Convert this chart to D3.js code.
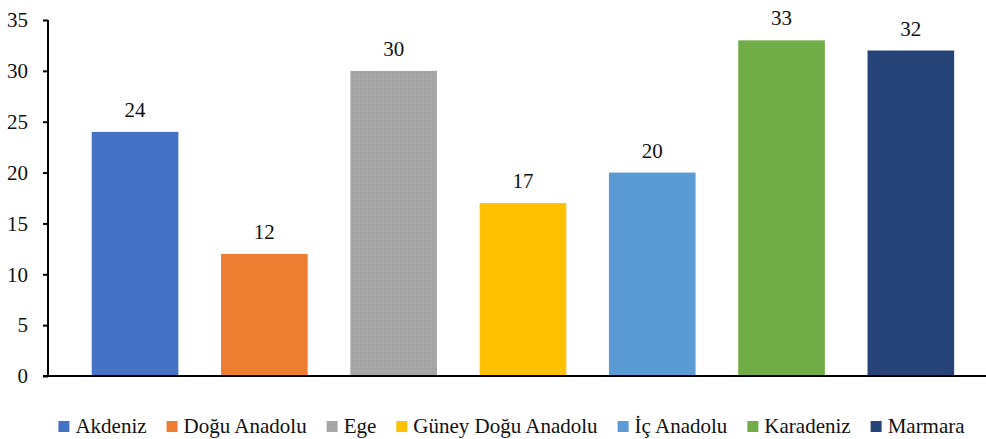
<!DOCTYPE html>
<html>
<head>
<meta charset="utf-8">
<script src="https://cdn.jsdelivr.net/npm/d3@7"></script>
</head>
<body style="margin:0">
<div id="chart"></div>
<script>
// Data
const regions = ["Akdeniz", "Doğu Anadolu", "Ege", "Güney Doğu Anadolu", "İç Anadolu", "Karadeniz", "Marmara"];
const values = [24, 12, 30, 17, 20, 33, 32];
const colors = ["#4472C4", "#ED7D31", "#A5A5A5", "#FFC000", "#5B9BD5", "#70AD47", "#264478"];
const yTicks = [0, 5, 10, 15, 20, 25, 30, 35];

const data = regions.map((r, i) => ({ region: r, value: values[i], color: colors[i] }));

const width = 986;
const height = 439;
const serif = "Times New Roman";
const fontSize = 21;

const svg = d3.select("#chart")
    .append("svg")
    .attr("width", width)
    .attr("height", height);

// Dotted texture for the grey bar
const defs = svg.append("defs");
const pat = defs.append("pattern")
    .attr("id", "dots")
    .attr("width", 4)
    .attr("height", 4)
    .attr("patternUnits", "userSpaceOnUse");
pat.append("rect").attr("width", 4).attr("height", 4).attr("fill", "#A5A5A5");
pat.append("circle").attr("cx", 1).attr("cy", 1).attr("r", 0.7).attr("fill", "#9C9C9C");
pat.append("circle").attr("cx", 3).attr("cy", 3).attr("r", 0.7).attr("fill", "#AFAFAF");

// Scales
const xScale = d3.scaleBand()
    .domain(regions)
    .range([70.4, 975.5])
    .paddingInner(0.33)
    .paddingOuter(0.165);

const yScale = d3.scaleLinear()
    .domain([0, 35])
    .range([376, 20]);

// Bars
svg.append("g")
    .selectAll("rect")
    .data(data)
    .join("rect")
    .attr("x", d => xScale(d.region))
    .attr("y", d => yScale(d.value))
    .attr("width", xScale.bandwidth())
    .attr("height", d => yScale(0) - yScale(d.value))
    .attr("fill", d => d.region === "Ege" ? "url(#dots)" : d.color);

// Value labels
svg.append("g")
    .selectAll("text")
    .data(data)
    .join("text")
    .attr("x", d => xScale(d.region) + xScale.bandwidth() / 2)
    .attr("y", d => yScale(d.value) - 15)
    .attr("text-anchor", "middle")
    .attr("fill", "#111")
    .attr("font-size", fontSize)
    .attr("font-family", serif)
    .text(d => d.value);

// Y axis
const leftAxis = d3.axisLeft(yScale)
    .tickValues(yTicks)
    .tickSize(5)
    .tickPadding(15);

const yAxis = svg.append("g")
    .attr("transform", "translate(48,0)")
    .call(leftAxis)
    .attr("font-family", serif)
    .attr("font-size", fontSize);
yAxis.select(".domain").attr("d", `M0,${yScale(35)}V${yScale(0)}`).attr("stroke", "#000").attr("stroke-width", 2);
yAxis.selectAll(".tick line").attr("stroke", "#000").attr("stroke-width", 2);
yAxis.selectAll(".tick text").attr("fill", "#111");

// X axis line
svg.append("line")
    .attr("x1", 43)
    .attr("x2", width)
    .attr("y1", yScale(0))
    .attr("y2", yScale(0))
    .attr("stroke", "#000")
    .attr("stroke-width", 2);

// Legend
const legend = svg.append("g");
const items = legend.selectAll("g")
    .data(data)
    .join("g");

items.append("rect")
    .attr("width", 11)
    .attr("height", 11)
    .attr("y", 421)
    .attr("fill", d => d.region === "Ege" ? "url(#dots)" : d.color);

items.append("text")
    .attr("x", 17)
    .attr("y", 433)
    .attr("fill", "#111")
    .attr("font-size", fontSize)
    .attr("font-family", serif)
    .text(d => d.region);

// Lay out legend items side by side, centered
let xPos = 0;
const gap = 20;
items.each(function () {
    const w = 17 + d3.select(this).select("text").node().getComputedTextLength();
    d3.select(this).attr("transform", `translate(${xPos},0)`);
    xPos += w + gap;
});
const total = xPos - gap;
legend.attr("transform", `translate(${(58 + 965) / 2 - total / 2},0)`);
</script>
</body>
</html>
